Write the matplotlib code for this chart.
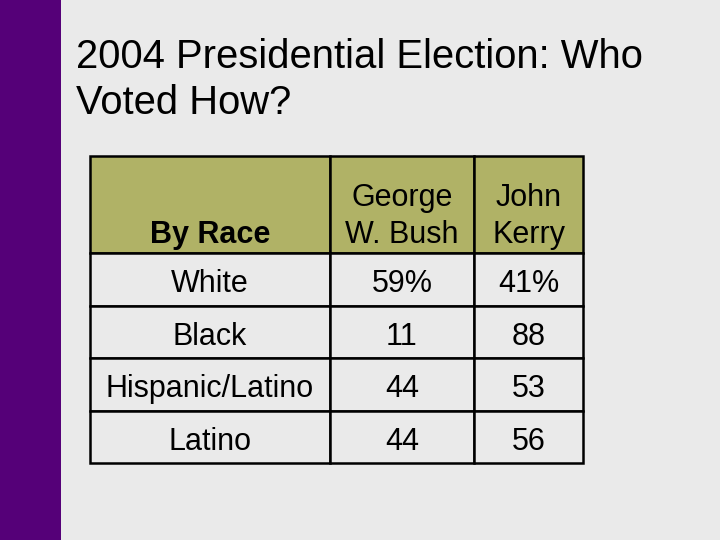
import matplotlib.pyplot as plt
import matplotlib.transforms as mtransforms

plt.rcParams["font.family"] = ["Liberation Sans", "DejaVu Sans"]

# table data
col_labels = ["\nBy Race", "George\nW. Bush", "John\nKerry"]
groups = ["White", "Black", "Hispanic/Latino", "Latino"]
bush = ["59%", "11", "44", "44"]
kerry = ["41%", "88", "53", "56"]

title_lines = ["2004 Presidential Election: Who", "Voted How?"]

bg = "#eaeaea"
purple = "#550078"
olive = "#b0b266"

fig = plt.figure(figsize=(7.2, 5.4), dpi=100, facecolor=bg)
ax = fig.add_axes([0, 0, 1, 1])
ax.set_xlim(0, 720)
ax.set_ylim(540, 0)
ax.axis("off")

# purple side bar
ax.axvspan(0, 61, color=purple, lw=0)

# title
ax.text(76, 68, title_lines[0], fontsize=28.8, va="baseline", ha="left")
ax.text(76, 114, title_lines[1], fontsize=28.8, va="baseline", ha="left")

rows = [[g, b, k] for g, b, k in zip(groups, bush, kerry)]
table = ax.table(
    cellText=rows,
    colLabels=col_labels,
    cellLoc="center",
    colWidths=[240, 144, 109],
    bbox=[90 / 720, 1 - 463 / 540, 493 / 720, 307 / 540],
)
table.auto_set_font_size(False)
table.set_fontsize(22)

for (r, c), cell in table.get_celld().items():
    cell.set_linewidth(1.8)
    cell.set_edgecolor("black")
    txt = cell.get_text()
    if r == 0:
        cell.set_facecolor(olive)
        cell.set_height(97)
        txt.set_linespacing(1.3)
        txt.set_transform(mtransforms.Affine2D().translate(0, -12))
        if c == 0:
            txt.set_fontweight("bold")
    else:
        cell.set_facecolor(bg)
        cell.set_height(52.5)
        txt.set_transform(mtransforms.Affine2D().translate(0, -5))

plt.savefig("out.png", dpi=100, facecolor=bg)
